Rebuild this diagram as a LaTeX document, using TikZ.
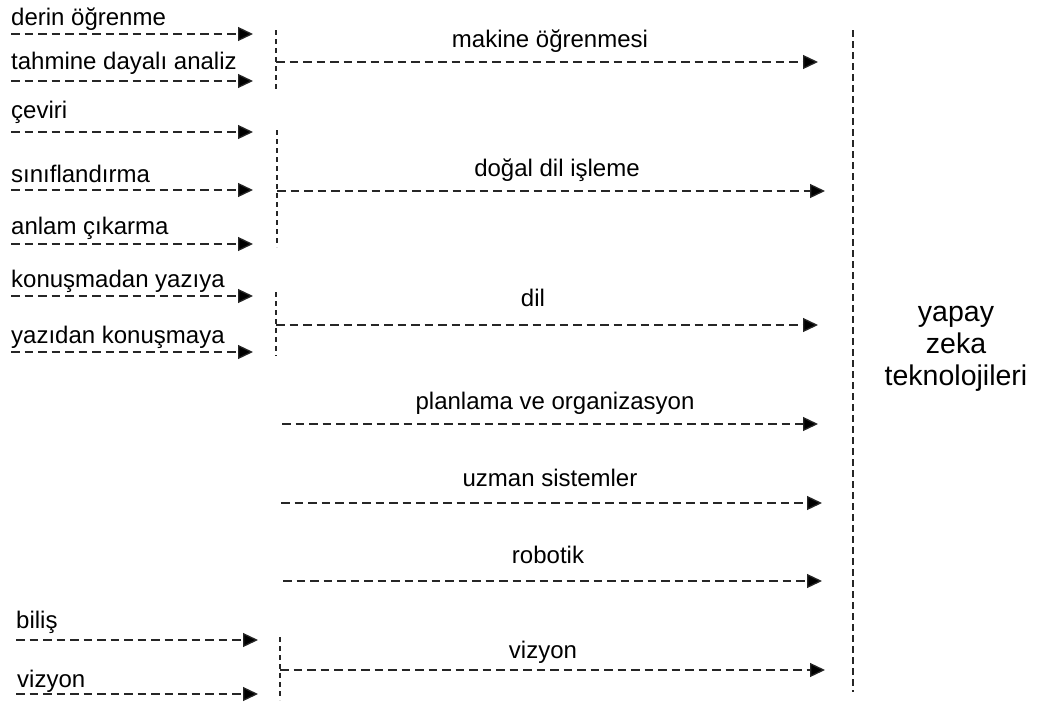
\documentclass[tikz,border=0pt]{standalone}
\usepackage{fontspec}
\setmainfont{Liberation Sans}
\usetikzlibrary{arrows.meta}
\tikzset{
  flow/.style={line width=1.3pt, draw=black!85, dash pattern=on 8.5pt off 5pt,
               -{Triangle[length=15pt,width=14pt,fill=black]}},
  bar/.style={line width=1.2pt, draw=black!85, dash pattern=on 5pt off 4pt},
  axis/.style={line width=1.3pt, draw=black!85, dash pattern=on 7pt off 4pt},
  lbl/.style={inner sep=0pt, font=\fontsize{24}{28}\selectfont},
  side/.style={inner sep=0pt, align=center, font=\fontsize{28.5}{32}\selectfont}
}
\begin{document}
\begin{tikzpicture}[x=1pt,y=-1pt]
\useasboundingbox (0,0) rectangle (1039,702);

% main vertical line on the right
\coordinate (axtop) at (853,30);
\coordinate (axbot) at (853,692);
\draw[axis] (axtop) -- (axbot);
% the base anchor of a multi-line node sits on its last line
\node[side, anchor=base] (yz) at (956,385) {yapay\\zeka\\teknolojileri};

% --- makine öğrenmesi ---
\coordinate (d1s) at (11,34);  \coordinate (d1e) at (253,34);
\coordinate (d2s) at (11,81);  \coordinate (d2e) at (253,81);
\node[lbl, anchor=base west] (t1) at (11,25) {derin öğrenme};
\node[lbl, anchor=base west] (t2) at (11,69) {tahmine dayalı analiz};
\draw[flow] (d1s) -- (d1e);
\draw[flow] (d2s) -- (d2e);
\coordinate (b1t) at (276,30); \coordinate (b1b) at (276,91);
\draw[bar] (b1t) -- (b1b);
\coordinate (m1s) at (276,62); \coordinate (m1e) at (818,62);
\draw[flow] (m1s) -- (m1e);
\node[lbl, anchor=base] (ml) at (550,47) {makine öğrenmesi};

% --- doğal dil işleme ---
\coordinate (n1s) at (11,132); \coordinate (n1e) at (253,132);
\coordinate (n2s) at (11,190); \coordinate (n2e) at (253,190);
\coordinate (n3s) at (11,244); \coordinate (n3e) at (253,244);
\node[lbl, anchor=base west] (t3) at (11,118) {çeviri};
\node[lbl, anchor=base west] (t4) at (11,182) {sınıflandırma};
\node[lbl, anchor=base west] (t5) at (11,234) {anlam çıkarma};
\draw[flow] (n1s) -- (n1e);
\draw[flow] (n2s) -- (n2e);
\draw[flow] (n3s) -- (n3e);
\coordinate (b2t) at (277,130); \coordinate (b2b) at (277,247);
\draw[bar] (b2t) -- (b2b);
\coordinate (m2s) at (277,191); \coordinate (m2e) at (825,191);
\draw[flow] (m2s) -- (m2e);
\node[lbl, anchor=base] (nl) at (557,176) {doğal dil işleme};

% --- dil ---
\coordinate (l1s) at (11,296); \coordinate (l1e) at (253,296);
\coordinate (l2s) at (11,352); \coordinate (l2e) at (253,352);
\node[lbl, anchor=base west] (t6) at (11,287) {konuşmadan yazıya};
\node[lbl, anchor=base west] (t7) at (11,343) {yazıdan konuşmaya};
\draw[flow] (l1s) -- (l1e);
\draw[flow] (l2s) -- (l2e);
\coordinate (b3t) at (276,292); \coordinate (b3b) at (276,356);
\draw[bar] (b3t) -- (b3b);
\coordinate (m3s) at (276,325); \coordinate (m3e) at (818,325);
\draw[flow] (m3s) -- (m3e);
\node[lbl, anchor=base] (dl) at (533,306) {dil};

% --- single streams ---
\coordinate (p1s) at (282,424); \coordinate (p1e) at (818,424);
\draw[flow] (p1s) -- (p1e);
\node[lbl, anchor=base] (pl) at (555,409) {planlama ve organizasyon};

\coordinate (u1s) at (281,503); \coordinate (u1e) at (822,503);
\draw[flow] (u1s) -- (u1e);
\node[lbl, anchor=base] (ul) at (550,486) {uzman sistemler};

\coordinate (r1s) at (283,581); \coordinate (r1e) at (822,581);
\draw[flow] (r1s) -- (r1e);
\node[lbl, anchor=base] (rl) at (548,563) {robotik};

% --- vizyon ---
\coordinate (v1s) at (16,640); \coordinate (v1e) at (258,640);
\coordinate (v2s) at (16,694); \coordinate (v2e) at (258,694);
\node[lbl, anchor=base west] (t8) at (16,628) {biliş};
\node[lbl, anchor=base west] (t9) at (17,687) {vizyon};
\draw[flow] (v1s) -- (v1e);
\draw[flow] (v2s) -- (v2e);
\coordinate (b4t) at (280,637); \coordinate (b4b) at (280,700);
\draw[bar] (b4t) -- (b4b);
\coordinate (m4s) at (280,670); \coordinate (m4e) at (825,670);
\draw[flow] (m4s) -- (m4e);
\node[lbl, anchor=base] (vl) at (543,658) {vizyon};
\end{tikzpicture}
\end{document}
